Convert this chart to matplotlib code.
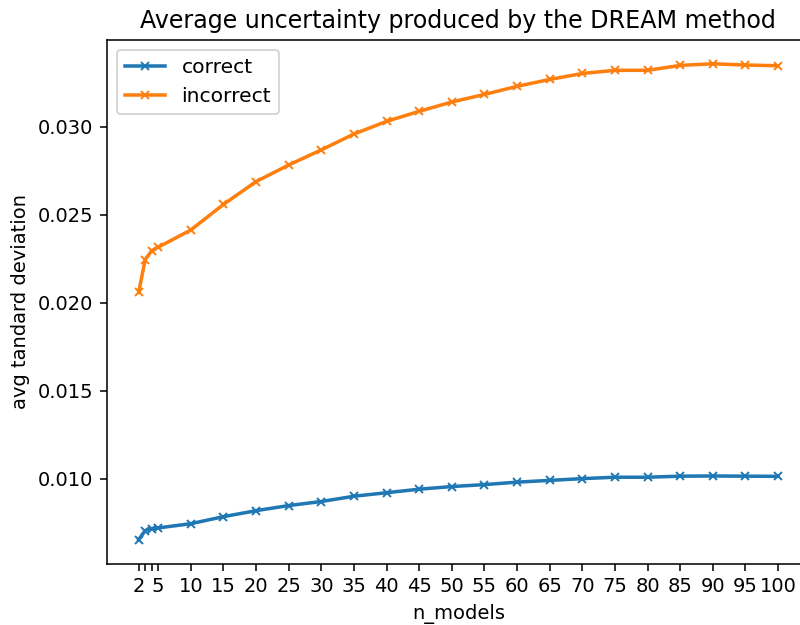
import matplotlib
matplotlib.use("Agg")
import matplotlib.pyplot as plt

n_models = [2, 3, 4, 5, 10, 15, 20, 25, 30, 35, 40, 45, 50, 55, 60, 65, 70, 75, 80, 85, 90, 95, 100]
correct = [0.00653, 0.00705, 0.00716, 0.00720, 0.00744, 0.00784, 0.00818, 0.00847, 0.00870, 0.00900,
           0.00920, 0.00940, 0.00955, 0.00966, 0.00980, 0.00990, 0.01000, 0.01008, 0.01008, 0.01014,
           0.01015, 0.01014, 0.01013]
incorrect = [0.02058, 0.02245, 0.02295, 0.02315, 0.02413, 0.02558, 0.02688, 0.02782, 0.02868, 0.02958,
             0.03030, 0.03087, 0.03140, 0.03183, 0.03229, 0.03268, 0.03302, 0.03320, 0.03320, 0.03348,
             0.03357, 0.03350, 0.03346]
tick_labels = ['2', '', '', '5'] + [str(v) for v in n_models[4:]]

DPI = 140
fig = plt.figure(figsize=(800 / DPI, 625 / DPI), dpi=DPI)
ax = fig.add_axes([106.7 / 800, 1 - 563.5 / 625, (810 - 106.7) / 800, (563.5 - 40) / 625])
ax.plot(n_models, correct, marker='x', markersize=4, linewidth=1.8, label='correct')
ax.plot(n_models, incorrect, marker='x', markersize=4, linewidth=1.8, label='incorrect')
ax.set_xticks(n_models)
ax.set_xticklabels(tick_labels)
ax.set_xlabel('n_models')
ax.set_ylabel('avg tandard deviation')
ax.set_title('Average uncertainty produced by the DREAM method', fontsize=12.2)
ax.legend(loc='upper left', fontsize=10.4)
fig.savefig('out.png', dpi=DPI)
